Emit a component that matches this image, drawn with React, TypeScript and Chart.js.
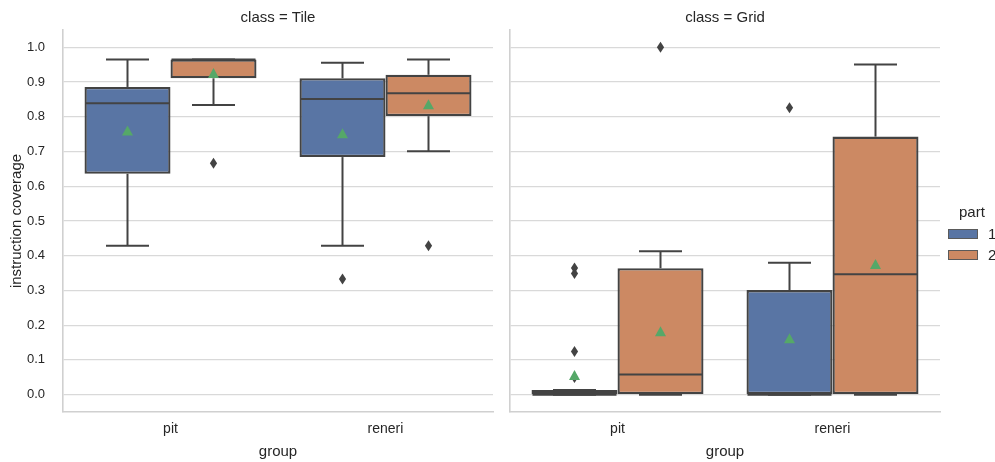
import React, { useEffect, useRef } from "react";
import { Chart, registerables } from "chart.js";

Chart.register(...registerables);

// ---------------- data ----------------
const GROUPS = ["pit", "reneri"];
const PART_LABELS = ["1", "2"];
const Y_TICKS = [0, 0.1, 0.2, 0.3, 0.4, 0.5, 0.6, 0.7, 0.8, 0.9, 1.0];
const PANEL_TITLES = ["class = Tile", "class = Grid"];

// class = Tile, part 1
const TILE_P1_Q1 = [0.636, 0.684];
const TILE_P1_Q3 = [0.886, 0.911];
const TILE_P1_MEDIAN = [0.839, 0.851];
const TILE_P1_WHISKER_LO = [0.429, 0.429];
const TILE_P1_WHISKER_HI = [0.965, 0.956];
const TILE_P1_MEAN = [0.759, 0.751];
const TILE_P1_OUTLIERS = [[], [0.333]];

// class = Tile, part 2
const TILE_P2_Q1 = [0.911, 0.802];
const TILE_P2_Q3 = [0.965, 0.921];
const TILE_P2_MEDIAN = [0.965, 0.868];
const TILE_P2_WHISKER_LO = [0.834, 0.701];
const TILE_P2_WHISKER_HI = [0.965, 0.965];
const TILE_P2_MEAN = [0.925, 0.835];
const TILE_P2_OUTLIERS = [[0.666], [0.429]];

// class = Grid, part 1
const GRID_P1_Q1 = [0, 0];
const GRID_P1_Q3 = [0.013, 0.301];
const GRID_P1_MEDIAN = [0, 0];
const GRID_P1_WHISKER_LO = [0, 0];
const GRID_P1_WHISKER_HI = [0.013, 0.38];
const GRID_P1_MEAN = [0.055, 0.161];
const GRID_P1_OUTLIERS = [[0.365, 0.349, 0.124, 0.049], [0.826]];

// class = Grid, part 2
const GRID_P2_Q1 = [0, 0];
const GRID_P2_Q3 = [0.364, 0.743];
const GRID_P2_MEDIAN = [0.058, 0.347];
const GRID_P2_WHISKER_LO = [0, 0];
const GRID_P2_WHISKER_HI = [0.413, 0.951];
const GRID_P2_MEAN = [0.181, 0.375];
const GRID_P2_OUTLIERS = [[1.0], []];

// ---------------- styles ----------------
const FONT = "'Liberation Sans', Arial, sans-serif";
const TEXT = "#262626";
const LINE = "#434343";
const GRID = "#d9d9d9";
const SPINE = "#d0d0d0";
const COLORS = ["#5975a4", "#cc8963"];
const MEAN_COLOR = "#55a868";

type Stats = {
  q1: number[];
  q3: number[];
  med: number[];
  wlo: number[];
  whi: number[];
  mean: number[];
  out: number[][];
};

const TILE_STATS: Stats[] = [
  { q1: TILE_P1_Q1, q3: TILE_P1_Q3, med: TILE_P1_MEDIAN, wlo: TILE_P1_WHISKER_LO, whi: TILE_P1_WHISKER_HI, mean: TILE_P1_MEAN, out: TILE_P1_OUTLIERS },
  { q1: TILE_P2_Q1, q3: TILE_P2_Q3, med: TILE_P2_MEDIAN, wlo: TILE_P2_WHISKER_LO, whi: TILE_P2_WHISKER_HI, mean: TILE_P2_MEAN, out: TILE_P2_OUTLIERS },
];
const GRID_STATS: Stats[] = [
  { q1: GRID_P1_Q1, q3: GRID_P1_Q3, med: GRID_P1_MEDIAN, wlo: GRID_P1_WHISKER_LO, whi: GRID_P1_WHISKER_HI, mean: GRID_P1_MEAN, out: GRID_P1_OUTLIERS },
  { q1: GRID_P2_Q1, q3: GRID_P2_Q3, med: GRID_P2_MEDIAN, wlo: GRID_P2_WHISKER_LO, whi: GRID_P2_WHISKER_HI, mean: GRID_P2_MEAN, out: GRID_P2_OUTLIERS },
];

function boxPlugin(stats: Stats[]) {
  return {
    id: "boxDetails",
    afterDatasetsDraw(chart: any) {
      const ctx = chart.ctx as CanvasRenderingContext2D;
      const ys = chart.scales.y;
      const line = (x1: number, y1: number, x2: number, y2: number) => {
        ctx.beginPath();
        ctx.moveTo(x1, y1);
        ctx.lineTo(x2, y2);
        ctx.stroke();
      };
      stats.forEach((s, d) => {
        const meta = chart.getDatasetMeta(d);
        meta.data.forEach((el: any, i: number) => {
          const { x, width } = el.getProps(["x", "width"], true);
          const py = (v: number) => ys.getPixelForValue(v);
          ctx.save();
          ctx.strokeStyle = LINE;
          ctx.lineWidth = 2;
          ctx.lineCap = "butt";
          // whiskers
          line(x, py(s.q3[i]), x, py(s.whi[i]));
          line(x, py(s.q1[i]), x, py(s.wlo[i]));
          const cap = width / 4;
          line(x - cap, py(s.whi[i]), x + cap, py(s.whi[i]));
          line(x - cap, py(s.wlo[i]), x + cap, py(s.wlo[i]));
          // median
          line(x - width / 2 + 1, py(s.med[i]), x + width / 2 - 1, py(s.med[i]));
          // outliers (thin diamonds)
          ctx.fillStyle = LINE;
          s.out[i].forEach((v) => {
            const cy = py(v);
            ctx.beginPath();
            ctx.moveTo(x, cy - 5.5);
            ctx.lineTo(x + 3.6, cy);
            ctx.lineTo(x, cy + 5.5);
            ctx.lineTo(x - 3.6, cy);
            ctx.closePath();
            ctx.fill();
          });
          // mean triangle
          const my = py(s.mean[i]);
          ctx.fillStyle = MEAN_COLOR;
          ctx.beginPath();
          ctx.moveTo(x, my - 5.5);
          ctx.lineTo(x + 5.5, my + 4.5);
          ctx.lineTo(x - 5.5, my + 4.5);
          ctx.closePath();
          ctx.fill();
          ctx.restore();
        });
      });
    },
  };
}

function makeConfig(stats: Stats[], title: string, first: boolean, padRight: number): any {
  return {
    type: "bar",
    data: {
      labels: GROUPS,
      datasets: stats.map((s, d) => ({
        label: PART_LABELS[d],
        data: GROUPS.map((_, i) => [s.q1[i], s.q3[i]]),
        backgroundColor: COLORS[d],
        borderColor: LINE,
        borderWidth: 2.3,
        borderSkipped: false,
        categoryPercentage: 0.8,
        barPercentage: 1.0,
      })),
    },
    options: {
      responsive: false,
      animation: false,
      layout: { padding: { left: 0, right: padRight, top: 0, bottom: 0 } },
      plugins: {
        legend: { display: false },
        tooltip: { enabled: false },
        title: {
          display: true,
          text: title,
          fullSize: false,
          color: TEXT,
          font: { family: FONT, size: 15, weight: "normal" },
          padding: { top: 9, bottom: 3 },
        },
      },
      scales: {
        x: {
          offset: true,
          grid: { display: false, drawTicks: false },
          border: { display: true, color: SPINE, width: 1.6 },
          ticks: { padding: 9, color: TEXT, font: { family: FONT, size: 14 } },
          title: {
            display: true,
            text: "group",
            color: TEXT,
            font: { family: FONT, size: 15 },
            padding: { top: 0, bottom: 1 },
          },
          afterFit: (s: any) => {
            s.height = 50;
          },
        },
        y: {
          min: -0.05,
          max: 1.05,
          afterBuildTicks: (s: any) => {
            s.ticks = Y_TICKS.map((v) => ({ value: v }));
          },
          afterFit: (s: any) => {
            s.width = first ? 63 : 10;
          },
          grid: { color: GRID, lineWidth: 1.3, drawTicks: false },
          border: { display: true, color: SPINE, width: 1.6 },
          ticks: {
            display: first,
            padding: 18,
            color: TEXT,
            font: { family: FONT, size: 13 },
            callback: (v: any) => Number(v).toFixed(1),
          },
          title: {
            display: first,
            text: "instruction coverage",
            color: TEXT,
            font: { family: FONT, size: 15 },
            padding: { top: 8, bottom: 0 },
          },
        },
      },
    },
    plugins: [boxPlugin(stats)],
  };
}

export default function App() {
  const leftRef = useRef<HTMLCanvasElement | null>(null);
  const rightRef = useRef<HTMLCanvasElement | null>(null);

  useEffect(() => {
    const c1 = new Chart(leftRef.current as HTMLCanvasElement, makeConfig(TILE_STATS, PANEL_TITLES[0], true, 7));
    const c2 = new Chart(rightRef.current as HTMLCanvasElement, makeConfig(GRID_STATS, PANEL_TITLES[1], false, 55));
    return () => {
      c1.destroy();
      c2.destroy();
    };
  }, []);

  const textStyle: React.CSSProperties = {
    position: "absolute",
    fontFamily: FONT,
    fontSize: 15,
    lineHeight: "18px",
    color: TEXT,
    whiteSpace: "nowrap",
  };

  return (
    <div style={{ position: "absolute", left: 0, top: 0, width: 995, height: 462, background: "#fff", overflow: "hidden" }}>
      <canvas ref={leftRef} width={500} height={462} style={{ position: "absolute", left: 0, top: 0, width: 500, height: 462 }} />
      <canvas ref={rightRef} width={495} height={462} style={{ position: "absolute", left: 500, top: 0, width: 495, height: 462 }} />
      <div style={{ ...textStyle, left: 959, top: 203 }}>part</div>
      {PART_LABELS.map((lab, i) => (
        <React.Fragment key={lab}>
          <div
            style={{
              position: "absolute",
              left: 948,
              top: 229 + i * 21,
              width: 30,
              height: 10,
              boxSizing: "border-box",
              background: COLORS[i],
              border: "1px solid #5a5a5a",
            }}
          />
          <div style={{ ...textStyle, left: 988, top: 225 + i * 21 }}>{lab}</div>
        </React.Fragment>
      ))}
    </div>
  );
}
